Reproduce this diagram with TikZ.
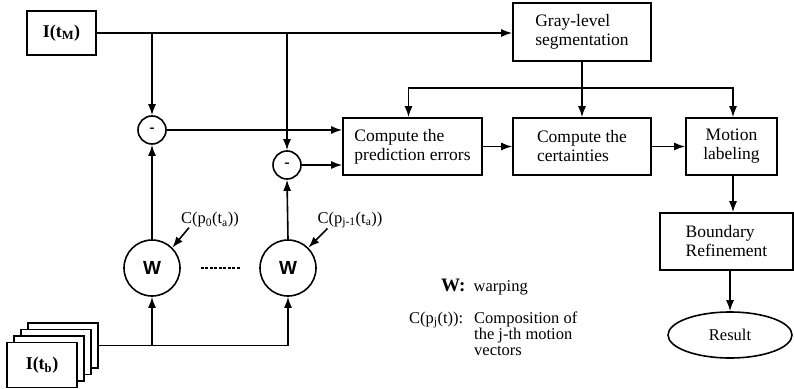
\documentclass[tikz,border=0pt]{standalone}
\usepackage{fontspec}
\setmainfont{Liberation Serif}
\setsansfont{Liberation Sans}
\usetikzlibrary{arrows.meta,shapes.geometric}
\tikzset{
  box/.style={draw, line width=1.6pt, align=left, inner sep=0pt, font=\fontsize{17.5}{19}\selectfont},
  sumnode/.style={circle, draw, line width=1.6pt, minimum size=28pt, inner sep=0pt, font=\bfseries\fontsize{16}{16}\selectfont},
  warpnode/.style={circle, draw, line width=1.6pt, minimum size=56pt, inner sep=0pt, font=\sffamily\bfseries\fontsize{19}{19}\selectfont},
  page/.style={draw, fill=white, line width=1.6pt, minimum width=70pt, minimum height=45pt},
  wire/.style={line width=1.6pt},
  arr/.style={line width=1.6pt, -{Latex[length=11pt,width=8pt]}},
  lbl/.style={font=\fontsize{16.5}{16}\selectfont, inner sep=0pt}
}

\begin{document}
\begin{tikzpicture}[x=1pt, y=-1pt]
  \useasboundingbox (0,0) rectangle (794,388);
  % input frames
  \node[box, minimum width=69pt, minimum height=44pt, align=center, font=\fontsize{18}{19}\bfseries] (tM) at (61.5,33) {I(t\textsubscript{M})};
  \node[page] (tb3) at (63,345.5) {};
  \node[page] (tb2) at (56,352) {};
  \node[page] (tb1) at (49,358.5) {};
  \node[page, font=\fontsize{18}{19}\bfseries] (tb) at (42,365) {I(t\textsubscript{b})};
  % processing boxes
  \node[box, minimum width=138pt, minimum height=58pt] (gray) at (582,32) {Gray-level\\segmentation};
  \node[box, minimum width=139pt, minimum height=57pt] (pred) at (412.5,146.5) {Compute the\\prediction errors};
  \node[box, minimum width=138pt, minimum height=57pt] (cert) at (582,146.5) {Compute the\\certainties};
  \node[box, minimum width=91pt, minimum height=57pt, align=center] (motion) at (731.5,146.5) {Motion\\labeling};
  \node[box, minimum width=133pt, minimum height=57pt] (bound) at (726.5,241.5) {Boundary\\Refinement};
  \node[ellipse, draw, line width=1.6pt, minimum width=124pt, minimum height=46pt, inner sep=0pt, font=\fontsize{16.5}{17}\selectfont] (result) at (730,335) {Result};
  % difference and warping
  \node[sumnode] (m1) at (152,130) {-};
  \node[sumnode] (m2) at (287,165) {-};
  \node[warpnode] (w1) at (152,268) {W};
  \node[warpnode] (w2) at (288,268) {W};
  \node[lbl] (c1) at (210,220) {C(p\textsubscript{0}(t\textsubscript{a}))};
  \node[lbl] (c2) at (350,220) {C(p\textsubscript{j-1}(t\textsubscript{a}))};
  % legend
  \node[lbl, anchor=west] (lw) at (441,287) {{\fontsize{19}{19}\bfseries W:}\ \ warping};
  \node[lbl, anchor=west] (lc) at (409,320) {C(p\textsubscript{j}(t)):};
  \node[lbl, anchor=north west, align=left] (ld) at (474,312) {Composition of\\the j-th motion\\vectors};
  \coordinate (d) at (582,88);

  \draw[arr] (tM.east) -- (tM.east -| gray.west);
  \draw[arr] (m1 |- tM.east) -- (m1.north);
  \draw[arr] (m2 |- tM.east) -- (m2.north);
  \draw[arr] (m1.east) -- (m1 -| pred.west);
  \draw[arr] (m2.east) -- (m2 -| pred.west);
  \draw[arr] (w1.north) -- (m1.south);
  \draw[arr] (w2.north) -- (m2.south);
  \draw[wire] (tb3.east) -- (w2 |- tb3.east);
  \draw[arr] (w1 |- tb3.east) -- (w1.south);
  \draw[arr] (w2 |- tb3.east) -- (w2.south);
  \draw[wire, dashed, dash pattern=on 3pt off 1.5pt, shorten <=20pt, shorten >=19pt] (w1.east) -- (w2.west);
  \draw[arr] ([xshift=8pt]c1.south west) -- (w1.north east);
  \draw[arr] ([xshift=10pt]c2.south west) -- (w2.north east);
  \draw[arr] (gray.south) -- (cert.north);
  \draw[arr] (d) -| ([xshift=-4pt]pred.north);
  \draw[arr] (d) -| ([xshift=1.5pt]motion.north);
  \draw[arr] (pred) -- (cert);
  \draw[arr] (cert) -- (motion);
  \draw[arr] ([xshift=1.5pt]motion.south) -- ([xshift=1.5pt]motion.south |- bound.north);
  \draw[arr] (result.north |- bound.south) -- (result.north);
\end{tikzpicture}
\end{document}
